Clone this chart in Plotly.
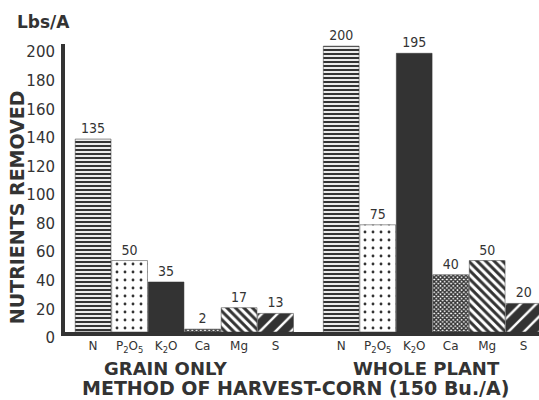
import plotly.graph_objects as go

nutrients = ["N", "P<sub>2</sub>O<sub>5</sub>", "K<sub>2</sub>O", "Ca", "Mg", "S"]
grain_only = [135, 50, 35, 2, 17, 13]
whole_plant = [200, 75, 195, 40, 50, 20]
groups = ["GRAIN ONLY", "WHOLE PLANT"]
y_ticks = [0, 20, 40, 60, 80, 100, 120, 140, 160, 180, 200]

INK = "#333333"
group_offset = [0.0, 6.8]

x_pos, vals, labels = [], [], []
for g, series in zip(group_offset, [grain_only, whole_plant]):
    for i, v in enumerate(series):
        x_pos.append(g + i)
        vals.append(v)
        labels.append(nutrients[i])

shapes = ["-", ".", "", "x", "\\", "/"] * 2
fg = [INK, INK, INK, INK, INK, "white"] * 2
bg = ["white", "white", INK, "white", "white", INK] * 2
sizes = [4, 8, 4, 3, 6, 11] * 2
solid = [0.55, 0.1, 0.5, 0.7, 0.5, 0.22] * 2

fig = go.Figure(go.Bar(
    x=x_pos, y=vals, width=0.98,
    text=[str(v) for v in vals], textposition="outside",
    textfont=dict(family="DejaVu Sans Condensed", size=14, color=INK),
    cliponaxis=False,
    marker=dict(color=INK, line=dict(color=INK, width=0.5),
                pattern=dict(shape=shapes, fgcolor=fg, bgcolor=bg,
                             size=sizes, solidity=solid, fillmode="replace")),
))

fig.update_layout(
    width=539, height=400,
    margin=dict(l=65, r=0, t=44, b=68),
    paper_bgcolor="white", plot_bgcolor="white",
    showlegend=False,
    font=dict(family="DejaVu Sans", color=INK),
    xaxis=dict(range=[-0.77, 12.22], tickvals=x_pos, ticktext=labels,
               showline=True, linewidth=4, linecolor=INK, showgrid=False,
               zeroline=False, ticks="", tickfont=dict(size=12, color=INK),
               automargin=False),
    yaxis=dict(range=[0, 201.5], tickvals=y_ticks, showline=True, linewidth=4,
               linecolor=INK, showgrid=False, zeroline=False, ticks="",
               ticklabelshift=6, ticklabelstandoff=3, automargin=False,
               tickfont=dict(size=15, color=INK)),
    annotations=[
        dict(text="<b>Lbs/A</b>", xref="paper", yref="paper", x=-0.046, y=1.075,
             xanchor="center", yanchor="middle",
             showarrow=False, font=dict(size=17, color=INK)),
        dict(text="<b>NUTRIENTS REMOVED</b>", xref="paper", yref="paper",
             x=-0.101, y=0.434, textangle=-90, showarrow=False,
             xanchor="center", yanchor="middle",
             font=dict(size=19, color=INK)),
        dict(text="<b>" + groups[0] + "</b>", xref="x", yref="paper", x=2.0, y=-0.128,
             xanchor="center", yanchor="middle",
             showarrow=False, font=dict(size=18, color=INK)),
        dict(text="<b>" + groups[1] + "</b>", xref="x", yref="paper", x=9.15, y=-0.128,
             xanchor="center", yanchor="middle",
             showarrow=False, font=dict(size=18, color=INK)),
        dict(text="<b>METHOD OF HARVEST-CORN (150 Bu./A)</b>", xref="paper", yref="paper",
             x=0.487, y=-0.196, showarrow=False, xanchor="center", yanchor="middle",
             font=dict(size=19, color=INK)),
    ],
)

fig.write_html("out.html", config={"displayModeBar": False},
               post_script="document.body.style.margin='0';")
